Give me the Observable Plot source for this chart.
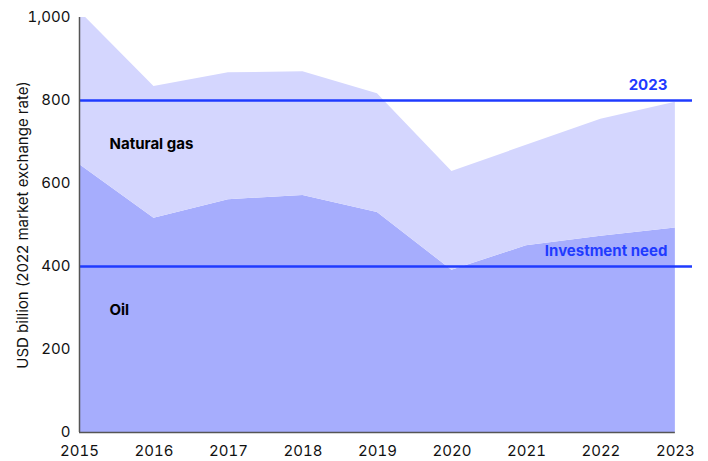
<!DOCTYPE html>
<html>
<head>
<meta charset="utf-8">
<script src="https://cdn.jsdelivr.net/npm/d3@7"></script>
<script src="https://cdn.jsdelivr.net/npm/@observablehq/plot@0.6"></script>
<style>
  html, body { margin: 0; padding: 0; background: #fff; }
  #chart { width: 708px; height: 461px; }
</style>
</head>
<body>
<div id="chart"></div>
<script>
const years = [2015, 2016, 2017, 2018, 2019, 2020, 2021, 2022, 2023];
const oil = [646, 516, 561, 571, 530, 391, 450, 473, 493];
const total = [1015, 834, 867, 869, 816, 629, 692, 755, 796];
const yTicks = [0, 200, 400, 600, 800, 1000];
const refValues = [800, 400];
const refLabels = ["2023", "Investment need"];
const seriesLabels = ["Natural gas", "Oil"];
const seriesLabelY = [694, 294];

const data = years.map((year, i) => ({year, oil: oil[i], total: total[i]}));
const refs = refValues.map((v, i) => ({value: v, label: refLabels[i]}));
const slabels = seriesLabels.map((s, i) => ({label: s, y: seriesLabelY[i]}));

const oilColor = "#a6adfd";
const gasColor = "#d4d6fe";
const blue = "#1f3bff";
const font = "Inter, 'Liberation Sans', sans-serif";

const chart = Plot.plot({
  width: 708,
  height: 461,
  marginTop: 17,
  marginBottom: 29,
  marginLeft: 79,
  marginRight: 16,
  style: {fontFamily: font, fontSize: "15px", color: "#111", background: "#fff", overflow: "visible"},
  x: {domain: [years[0], years[years.length - 1] + 0.23], ticks: years, tickFormat: d => String(d), tickSize: 0, tickPadding: 13, label: null},
  y: {domain: [0, 1000], ticks: yTicks, tickFormat: d3.format(","), tickSize: 0, tickPadding: 9,
      label: "USD billion (2022 market exchange rate)", labelAnchor: "center", labelArrow: "none", labelOffset: 62},
  marks: [
    Plot.areaY(data, {x: "year", y1: 0, y2: "oil", fill: oilColor}),
    Plot.areaY(data, {x: "year", y1: "oil", y2: "total", fill: gasColor, clip: true}),
    Plot.ruleY(refs, {y: "value", stroke: blue, strokeWidth: 2.5}),
    Plot.text(refs, {x: years[years.length - 1], y: "value", text: "label", textAnchor: "end", dx: -8, dy: -15.5, fill: blue, fontWeight: "bold", fontSize: 15}),
    Plot.text(slabels, {x: years[0], y: "y", text: "label", textAnchor: "start", dx: 30, fill: "#000", fontWeight: "bold", fontSize: 15}),
    Plot.ruleX([years[0]], {y1: 0, y2: 1000, stroke: "#555", strokeWidth: 1.5}),
    Plot.ruleY([0], {x1: years[0], x2: years[years.length - 1], stroke: "#555", strokeWidth: 1.5}),
    Plot.axisX({ticks: years, tickFormat: d => String(d), tickSize: 0, tickPadding: 13, fontSize: 15, label: null}),
    Plot.axisY({ticks: yTicks, tickFormat: d3.format(","), tickSize: 0, tickPadding: 9, fontSize: 15,
      label: "USD billion (2022 market exchange rate)", labelAnchor: "center", labelArrow: "none", labelOffset: 62})
  ]
});
document.getElementById("chart").appendChild(chart);
</script>
</body>
</html>
